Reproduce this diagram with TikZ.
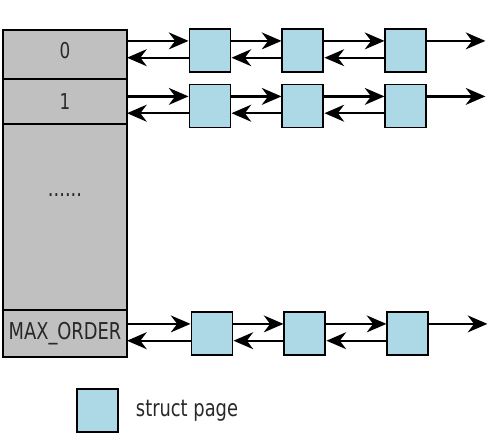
\documentclass[tikz,border=0pt]{standalone}
\usepackage{fontspec}
\setmainfont{DejaVu Sans}[FakeStretch=0.77]
\usetikzlibrary{arrows.meta,positioning,calc}
\definecolor{cellgray}{RGB}{192,192,192}
\definecolor{pageblue}{RGB}{173,216,230}
\definecolor{textgray}{RGB}{40,40,40}
\tikzset{
  ordcell/.style={draw, fill=cellgray, line width=1.4pt, minimum width=3.1cm,
    inner sep=0pt, outer sep=0pt, text=textgray, font=\fontsize{16.5}{19}\selectfont},
  pagebox/.style={draw, fill=pageblue, line width=1.4pt,
    minimum width=1.025cm, minimum height=1.075cm, inner sep=0pt},
  label/.style={text=textgray, font=\fontsize{16.5}{19}\selectfont},
  flow/.style={-{Stealth[length=14pt, width=12pt, inset=4.5pt]}, line width=1.7pt}
}

\begin{document}
\begin{tikzpicture}
\useasboundingbox (0,0) rectangle (12.525,-11.025);

% free-area orders
\node[ordcell, minimum height=1.225cm, font=\fontsize{15.5}{17}\selectfont] (ord0) at (1.625,-1.3625) {\raisebox{0.2cm}{0}};
\node[ordcell, minimum height=1.125cm, below=0pt of ord0, font=\fontsize{15.5}{17}\selectfont] (ord1) {1};
\node[ordcell, minimum height=4.65cm, below=0pt of ord1] (orddots) {};
\node[ordcell, minimum height=1.175cm, below=0pt of orddots] (ordmax) {MAX\_ORDER};
\node[label] (dots) at ($(orddots.center)+(0,0.55)$) {......};

% page lists
\node[pagebox] (pg01) at (5.25,-1.2625) {};
\node[pagebox] (pg11) at (5.25,-2.65) {};
\node[pagebox] (pgm1) at (5.3,-8.3375) {};
\foreach \r in {0,1,m} {
  \node[pagebox, right=1.25cm of pg\r1] (pg\r2) {};
  \node[pagebox, right=1.5cm of pg\r2] (pg\r3) {};
  \coordinate (end\r) at ($(pg\r3.east)+(1.45,0.24)$);
}

\foreach \r/\c in {0/ord0,1/ord1,m/ordmax} {
  \draw[flow] ($(\c.east |- pg\r1.west)+(0,0.24)$) -- ($(pg\r1.west)+(0,0.24)$);
  \draw[flow] ($(pg\r1.west)+(0,-0.18)$) -- ($(\c.east |- pg\r1.west)+(0,-0.18)$);
  \draw[flow] ($(pg\r1.east)+(0,0.24)$) -- ($(pg\r2.west)+(0,0.24)$);
  \draw[flow] ($(pg\r2.west)+(0,-0.18)$) -- ($(pg\r1.east)+(0,-0.18)$);
  \draw[flow] ($(pg\r2.east)+(0,0.24)$) -- ($(pg\r3.west)+(0,0.24)$);
  \draw[flow] ($(pg\r3.west)+(0,-0.18)$) -- ($(pg\r2.east)+(0,-0.18)$);
  \draw[flow] ($(pg\r3.east)+(0,0.24)$) -- (end\r);
}

% legend
\node[pagebox] (key) at (2.4375,-10.2625) {};
\node[label, right=0.3cm of key] (keytext) {struct page};
\end{tikzpicture}
\end{document}
